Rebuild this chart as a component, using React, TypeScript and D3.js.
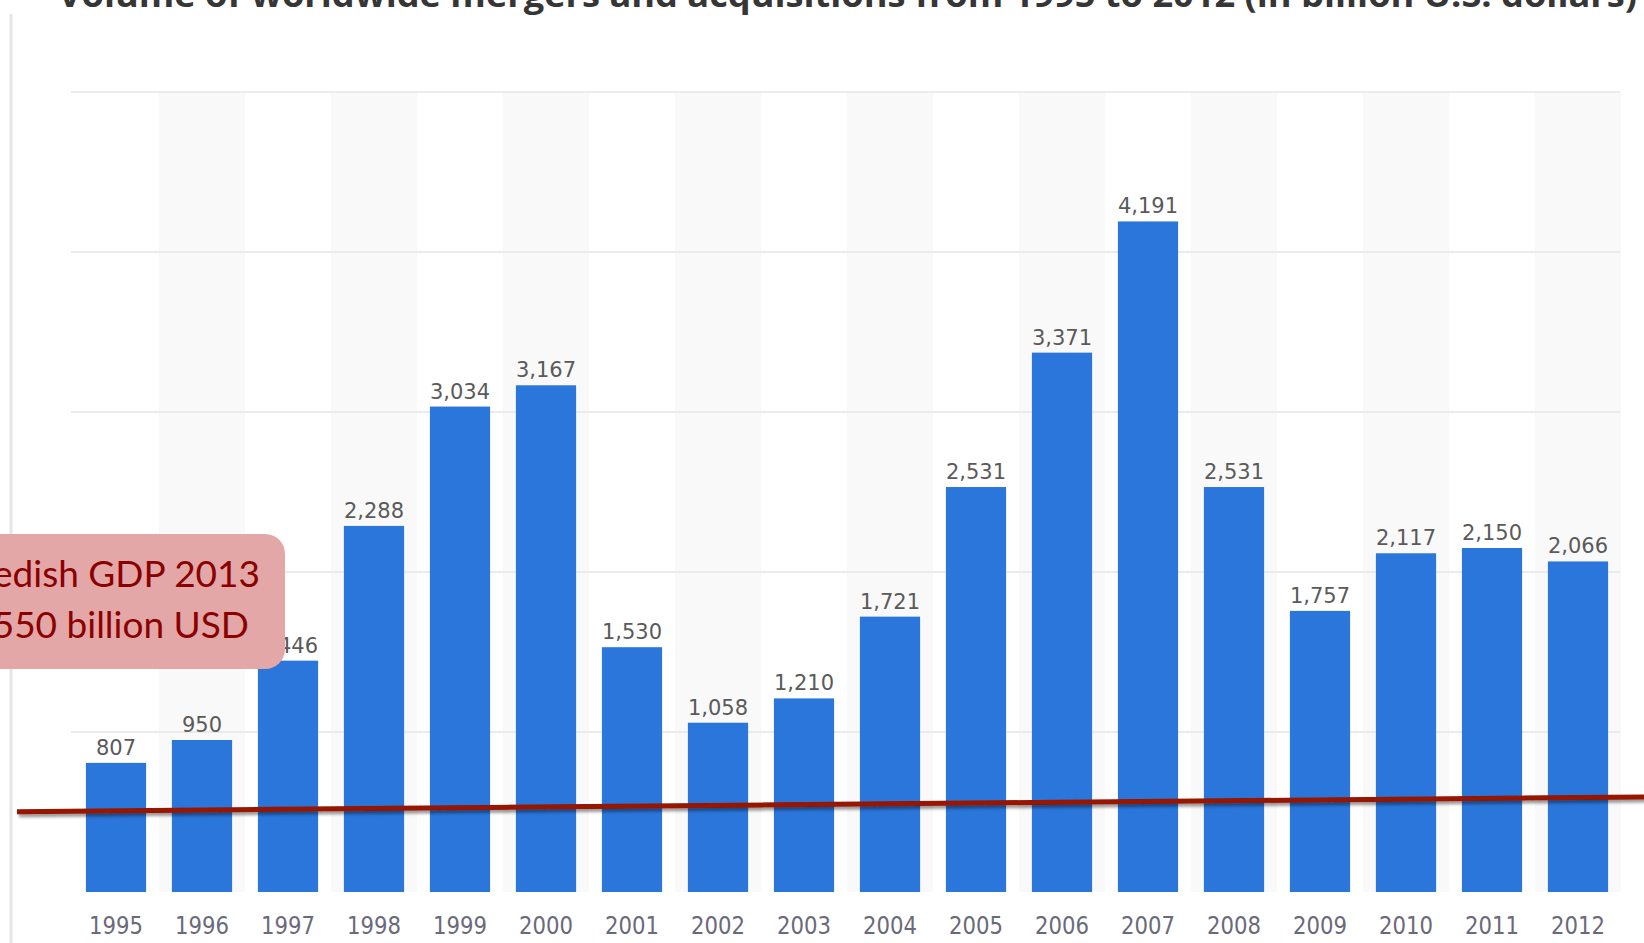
import React from "react";
import * as d3 from "d3";

const years = ["1995", "1996", "1997", "1998", "1999", "2000", "2001", "2002", "2003", "2004", "2005", "2006", "2007", "2008", "2009", "2010", "2011", "2012"];
const values = [807, 950, 1446, 2288, 3034, 3167, 1530, 1058, 1210, 1721, 2531, 3371, 4191, 2531, 1757, 2117, 2150, 2066];
const gridValues = [1000, 2000, 3000, 4000, 5000];
const gdpLineValues = [502, 594];
const title = "Volume of worldwide mergers and acquisitions from 1995 to 2012 (in billion U.S. dollars)";
const calloutLines = ["Swedish GDP 2013", "~550 billion USD"];

const W = 1644;
const H = 943;

export default function App() {
  const x = d3.scaleBand<string>().domain(years).range([73, 1621]).padding(0);
  const y = d3.scaleLinear().domain([0, 5000]).range([892, 92]);
  const step = x.step();
  const barW = step * 0.7;
  const fmt = d3.format(",");

  return (
    <svg
      width={W}
      height={H}
      viewBox={`0 0 ${W} ${H}`}
      style={{ position: "fixed", top: 0, left: 0, background: "#fff" }}
    >
      <defs>
        <filter id="lineShadow" x="-5%" y="-200%" width="110%" height="500%">
          <feDropShadow dx="2" dy="3" stdDeviation="1.5" floodColor="#000" floodOpacity="0.4" />
        </filter>
        <filter id="axisShadow" x="-5%" y="-200%" width="110%" height="500%">
          <feDropShadow dx="0" dy="1.5" stdDeviation="1" floodColor="#000" floodOpacity="0.2" />
        </filter>
      </defs>

      {/* left frame line */}
      <line x1={11} x2={11} y1={14} y2={H} stroke="#e6e6e6" strokeWidth={3} />

      {/* title (clipped at top) */}
      <text
        x={58}
        y={7}
        fontFamily="'Open Sans', 'DejaVu Sans', sans-serif"
        fontWeight={700}
        fontSize={34}
        fill="#363636"
        textLength={1579}
        lengthAdjust="spacingAndGlyphs"
      >
        {title}
      </text>

      {/* alternating column shading */}
      {years.map((yr, i) =>
        i % 2 === 1 ? (
          <rect key={"band" + yr} x={x(yr)} y={y(5000)} width={step} height={y(0) - y(5000)} fill="#f9f9f9" />
        ) : null
      )}

      {/* gridlines */}
      {gridValues.map((v) => (
        <line key={"g" + v} x1={71} x2={1620} y1={y(v)} y2={y(v)} stroke="#ebebeb" strokeWidth={2} />
      ))}

      {/* bars */}
      {years.map((yr, i) => (
        <rect
          key={"bar" + yr}
          x={(x(yr) as number) + (step - barW) / 2}
          y={y(values[i])}
          width={barW}
          height={y(0) - y(values[i])}
          fill="#2a76db"
        />
      ))}

      {/* value labels */}
      {years.map((yr, i) => (
        <text
          key={"lab" + yr}
          x={(x(yr) as number) + step / 2}
          y={y(values[i]) - 8}
          textAnchor="middle"
          fontFamily="'DejaVu Sans', sans-serif"
          fontSize={21}
          fill="#5a5a5a"
        >
          {fmt(values[i])}
        </text>
      ))}

      {/* x axis line */}
      <line x1={73} x2={1619} y1={y(0)} y2={y(0)} stroke="#5f5f5f" strokeWidth={2.5} filter="url(#axisShadow)" />

      {/* year labels */}
      {years.map((yr) => (
        <text
          key={"yr" + yr}
          x={(x(yr) as number) + step / 2}
          y={934}
          textAnchor="middle"
          fontFamily="'DejaVu Sans', sans-serif"
          fontSize={25}
          fill="#6a6a7a"
          textLength={54}
          lengthAdjust="spacingAndGlyphs"
        >
          {yr}
        </text>
      ))}

      {/* Swedish GDP line */}
      <line
        x1={17}
        x2={W}
        y1={y(gdpLineValues[0])}
        y2={y(gdpLineValues[1])}
        stroke="#961200"
        strokeWidth={5}
        filter="url(#lineShadow)"
      />

      {/* callout */}
      <rect x={-40} y={534} width={325} height={135} rx={20} ry={20} fill="#e3a7a7" />
      <text
        x={260}
        y={587}
        textAnchor="end"
        fontFamily="Lato, 'Open Sans', sans-serif"
        fontSize={37}
        fill="#8b0000"
      >
        {calloutLines[0]}
      </text>
      <text
        x={249}
        y={638}
        textAnchor="end"
        fontFamily="Lato, 'Open Sans', sans-serif"
        fontSize={37}
        fill="#8b0000"
      >
        {calloutLines[1]}
      </text>
    </svg>
  );
}
